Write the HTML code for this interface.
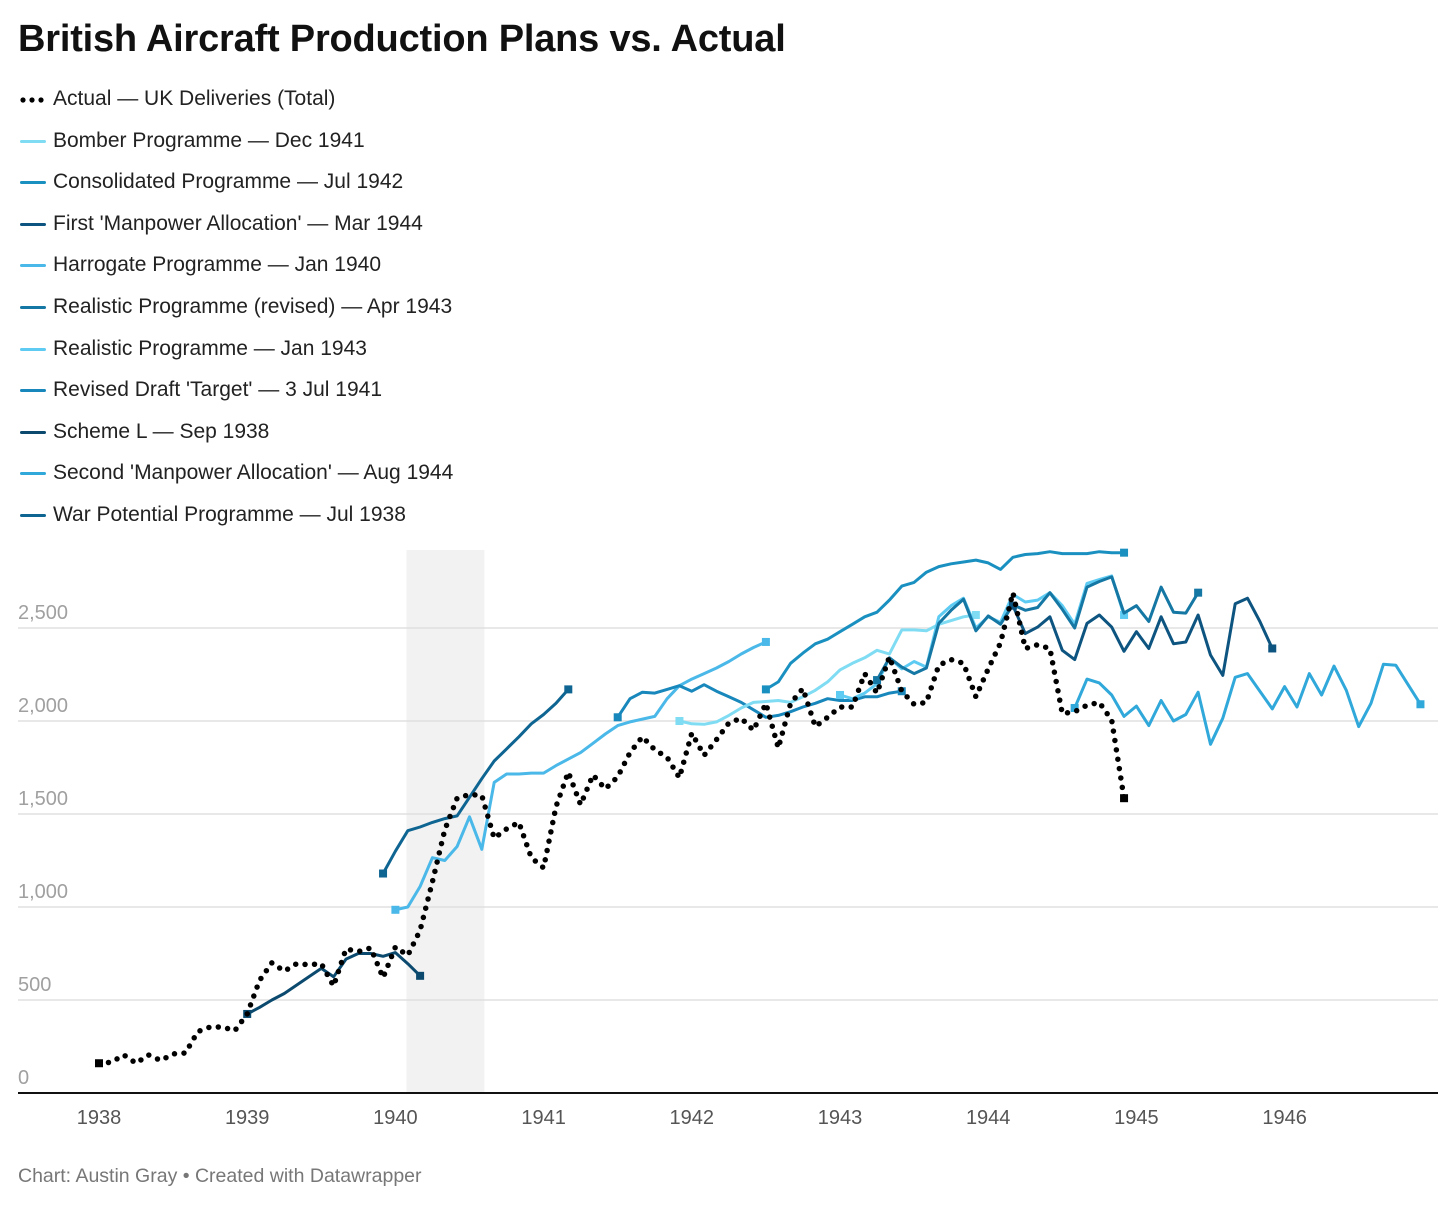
<!DOCTYPE html>
<html><head><meta charset="utf-8">
<style>
body{margin:0;background:#fff;font-family:"Liberation Sans",sans-serif;}
#wrap{position:relative;width:1456px;height:1207px;overflow:hidden;}
h1{position:absolute;left:18px;top:18px;margin:0;font-size:38px;font-weight:bold;color:#111;letter-spacing:-0.2px;}
.leg{position:absolute;left:18px;font-size:21px;color:#222;height:26px;line-height:26px;}
.leg .sw{position:absolute;left:2px;top:12px;width:26px;height:3px;border-radius:2px;}
.leg .sw svg{display:block;}
.leg span.t{position:absolute;left:35px;white-space:nowrap;}
#foot{position:absolute;left:18px;top:1165px;font-size:19.5px;color:#777;}
</style></head><body>
<div id="wrap">
<h1>British Aircraft Production Plans vs. Actual</h1>
<div id="legend"></div>
<svg id="chart" width="1456" height="1207" style="position:absolute;left:0;top:0"></svg>
<div id="foot">Chart: Austin Gray • Created with Datawrapper</div>
</div>
<script>
// ---- data (monthly, month index 0 = Jan 1938) ----
const seriesNames = ["Actual — UK Deliveries (Total)","Bomber Programme — Dec 1941","Consolidated Programme — Jul 1942","First 'Manpower Allocation' — Mar 1944","Harrogate Programme — Jan 1940","Realistic Programme (revised) — Apr 1943","Realistic Programme — Jan 1943","Revised Draft 'Target' — 3 Jul 1941","Scheme L — Sep 1938","Second 'Manpower Allocation' — Aug 1944","War Potential Programme — Jul 1938"];
const seriesColors = ["#000","#7fdcf3","#1a90c0","#0d5580","#4ab8e8","#1577a3","#5ecbf3","#1887bb","#0b4a6e","#30a8da","#0f6592"];
const seriesStart = [0,47,54,74,24,63,60,42,12,79,23];
const actualValues = [160,165,205,160,205,175,210,215,330,355,355,335,
425,605,700,655,695,690,695,575,775,760,780,620,
785,740,875,1135,1415,1585,1605,1600,1370,1420,1455,1265,
1210,1540,1725,1550,1710,1635,1700,1830,1915,1845,1805,1695,
1935,1815,1900,1990,2015,1950,2095,1855,2095,2175,1970,2020,
2075,2075,2255,2150,2345,2160,2090,2100,2300,2330,2310,2130,
2280,2420,2690,2390,2410,2390,2040,2050,2085,2100,2005,1585];
const bomberValues = [2000,1985,1982,1995,2030,2070,2100,2105,2110,2100,2130,2165,2210,2275,2310,2340,2380,2360,2490,2490,2485,2520,2540,2560,2570];
const consolidatedValues = [2170,2210,2310,2365,2415,2440,2480,2520,2560,2585,2650,2725,2745,2800,2830,2845,2855,2865,2850,2815,2880,2895,2900,2910,2900,2900,2900,2910,2905,2905];
const firstManpowerValues = [2620,2470,2505,2560,2380,2330,2525,2570,2505,2375,2480,2390,2560,2415,2425,2570,2355,2245,2630,2660,2535,2390];
const harrogateValues = [985,1000,1110,1265,1250,1325,1485,1310,1670,1715,1715,1720,1720,1760,1795,1830,1880,1930,1975,1995,2010,2025,2120,2190,2225,2255,2285,2320,2360,2395,2425];
const realisticRevValues = [2220,2340,2290,2255,2285,2525,2595,2655,2485,2565,2520,2625,2595,2610,2690,2600,2500,2720,2750,2775,2580,2620,2535,2720,2585,2580,2690];
const realisticJanValues = [2140,2120,2150,2200,2340,2280,2320,2290,2560,2620,2660,2500,2560,2530,2680,2640,2650,2690,2620,2520,2740,2760,2780,2570];
const revisedDraftValues = [2020,2120,2155,2150,2170,2190,2160,2195,2160,2130,2100,2060,2020,2030,2050,2075,2095,2120,2110,2110,2130,2130,2150,2160];
const schemeLValues = [425,460,500,535,580,625,670,625,720,750,750,735,755,695,630];
const secondManpowerValues = [2070,2225,2205,2140,2025,2080,1975,2110,2000,2035,2155,1875,2015,2235,2255,2160,2065,2185,2075,2255,2140,2295,2165,1970,2095,2305,2300,2195,2090];
const warPotentialValues = [1180,1300,1410,1430,1455,1475,1490,1590,1690,1785,1850,1915,1985,2035,2095,2170];
const yTicks = [0,500,1000,1500,2000,2500];
const yTickLabels = ["0","500","1,000","1,500","2,000","2,500"];
const xYears = [1938,1939,1940,1941,1942,1943,1944,1945,1946];
const shadeStartMonth = 24.9, shadeEndMonth = 31.2;

const allValues = [actualValues,bomberValues,consolidatedValues,firstManpowerValues,harrogateValues,realisticRevValues,realisticJanValues,revisedDraftValues,schemeLValues,secondManpowerValues,warPotentialValues];

// ---- axes ----
const X0=99, MPX=12.35, Y0=1093, YS=0.186;
const xs = m => X0 + m*MPX;
const ys = v => Y0 - v*YS;
const NS="http://www.w3.org/2000/svg";
const svg=document.getElementById('chart');
function mk(tag,attrs,parent){const e=document.createElementNS(NS,tag);for(const k in attrs)e.setAttribute(k,attrs[k]);(parent||svg).appendChild(e);return e;}

const band=mk('rect',{x:xs(shadeStartMonth),y:550,width:xs(shadeEndMonth)-xs(shadeStartMonth),height:Y0-550,fill:'#f2f2f2'});



yTicks.forEach((v,i)=>{
  if(v>0){const g=mk('line',{x1:18,x2:1438,y1:ys(v),y2:ys(v),stroke:'#e0e0e0','stroke-width':1.5});
  
  }
  const t=mk('text',{x:18,y:ys(v)-9,'font-size':20,fill:'#a0a0a0','font-family':'Liberation Sans, sans-serif'});
  t.textContent=yTickLabels[i];
  
  
});
xYears.forEach(yr=>{
  const t=mk('text',{x:xs((yr-1938)*12),y:1124,'font-size':20,fill:'#555','text-anchor':'middle','font-family':'Liberation Sans, sans-serif'});
  t.textContent=yr;
  
  
});

const order=[10,8,4,7,1,6,2,5,3,9,0];
order.forEach(si=>{
  const vals=allValues[si], st=seriesStart[si], col=seriesColors[si];
  const pts=vals.map((v,i)=>xs(st+i).toFixed(1)+','+ys(v).toFixed(1)).join(' ');
  const g=mk('g',{});
  
  
  const isA = si===0;
  mk('polyline',{points:pts,fill:'none',stroke:col,'stroke-width':isA?5.5:3,'stroke-linejoin':'round','stroke-linecap':'round','stroke-dasharray':isA?'0 9.5':'none'},g);
  [0,vals.length-1].forEach(i=>{
    mk('rect',{x:xs(st+i)-4,y:ys(vals[i])-4,width:8,height:8,fill:col},g);
  });
});

const base=mk('line',{x1:18,x2:1438,y1:Y0,y2:Y0,stroke:'#111','stroke-width':2});



const leg=document.getElementById('legend');
seriesNames.forEach((n,i)=>{
  const d=document.createElement('div');
  d.className='leg';
  d.style.top=(86+i*41.6)+'px';
  
  
  const sw=document.createElement('div');
  sw.className='sw';
  if(i===0){
    sw.style.background='none';sw.style.top='9.5px';sw.style.height='8px';
    sw.innerHTML='<svg width="28" height="8"><circle cx="3" cy="4" r="2.6" fill="#000"/><circle cx="12" cy="4" r="2.6" fill="#000"/><circle cx="21" cy="4" r="2.6" fill="#000"/></svg>';
  } else sw.style.background=seriesColors[i];
  
  
  const t=document.createElement('span');
  t.className='t';t.textContent=n;
  
  
  d.appendChild(sw);d.appendChild(t);leg.appendChild(d);
});
</script>
</body></html>
